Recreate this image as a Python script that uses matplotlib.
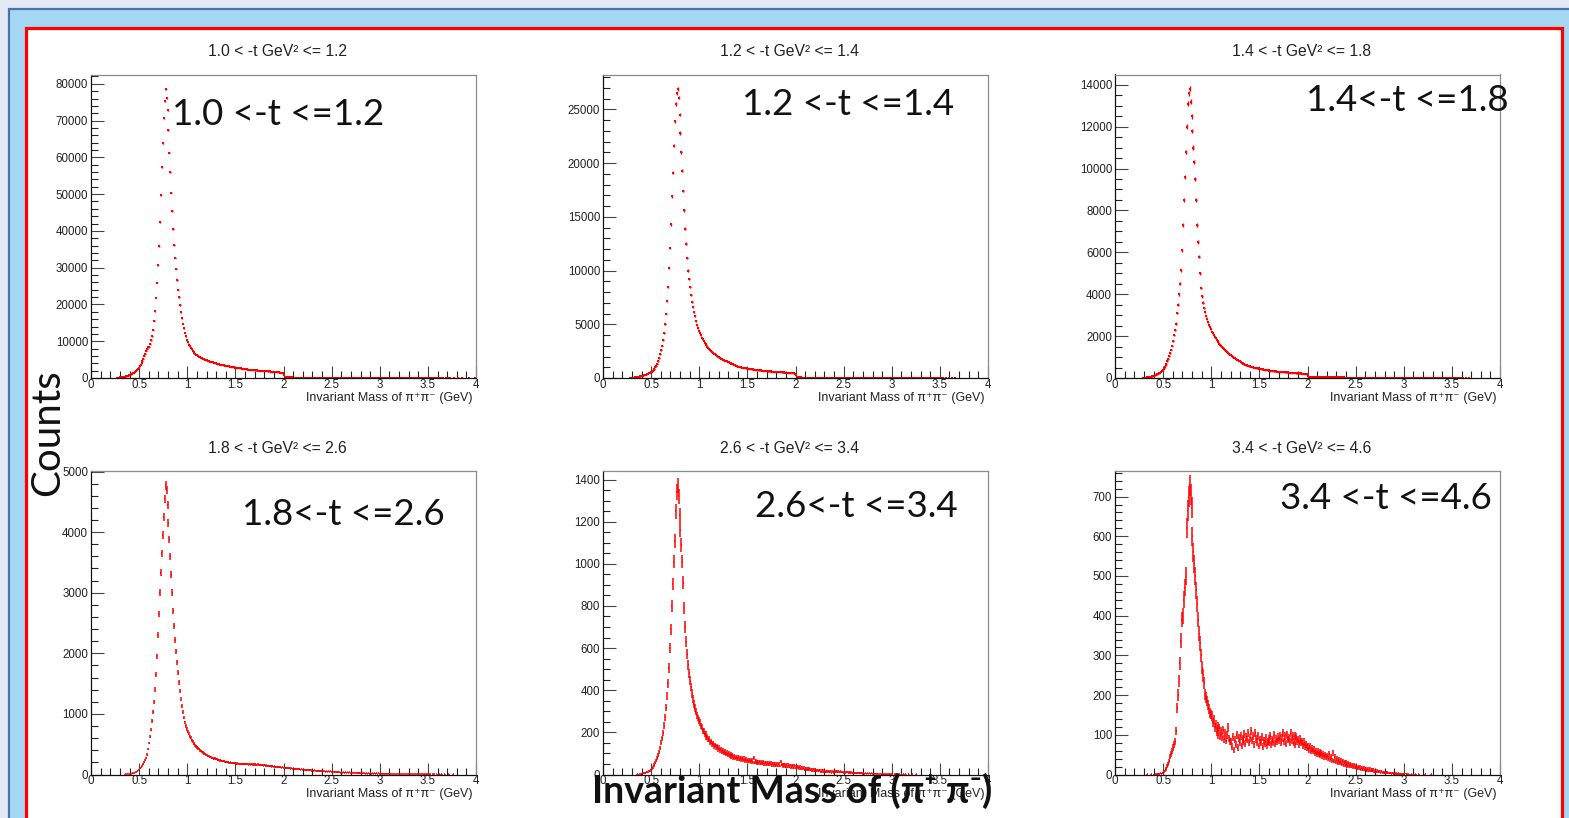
import numpy as np
import matplotlib
matplotlib.use("Agg")
import matplotlib.pyplot as plt
from matplotlib.patches import Rectangle
from matplotlib.ticker import MultipleLocator, FuncFormatter

# ---------------- data (bin contents, 0.01 GeV bins starting at 0.20 GeV) ----------------
BIN_WIDTH = 0.01
FIRST_BIN = 0.20

counts_t_1p0_1p2 = [
    0, 0, 0, 0, 0, 0, 0, 30, 60, 100,
    140, 180, 230, 280, 340, 400, 470, 550, 640, 740,
    850, 980, 1120, 1280, 1460, 1660, 1890, 2150, 2450, 2800,
    3200, 3650, 4150, 4700, 5300, 5950, 6650, 7400, 8000, 8300,
    8500, 9300, 10200, 11300, 13100, 15600, 18100, 21800, 25900, 30600,
    35900, 42400, 49800, 57300, 63900, 70700, 75400, 78600, 76200, 73000,
    67500, 61300, 55900, 50400, 45400, 40400, 36100, 32700, 29700, 26600,
    24000, 21900, 19800, 17900, 16200, 14800, 13500, 12300, 11300, 10400,
    9700, 9100, 8600, 8150, 7750, 7400, 7080, 6800, 6550, 6330,
    6130, 5950, 5780, 5620, 5470, 5330, 5200, 5080, 4970, 4860,
    4760, 4660, 4570, 4480, 4400, 4320, 4240, 4160, 4080, 4000,
    3930, 3860, 3790, 3720, 3650, 3590, 3530, 3470, 3410, 3350,
    3290, 3240, 3190, 3140, 3090, 3040, 2990, 2940, 2890, 2840,
    2800, 2760, 2720, 2680, 2640, 2600, 2560, 2520, 2480, 2440,
    2400, 2370, 2340, 2310, 2280, 2250, 2220, 2190, 2160, 2130,
    2100, 2070, 2040, 2010, 1990, 1970, 1950, 1930, 1910, 1890,
    1870, 1850, 1830, 1810, 1790, 1770, 1750, 1730, 1710, 1690,
    1670, 1640, 1610, 1580, 1550, 1520, 1480, 1440, 1400, 1320,
    900, 400, 180, 160, 150, 150, 145, 140, 140, 135,
    135, 130, 130, 128, 125, 125, 122, 120, 118, 118,
    115, 113, 112, 110, 108, 106, 105, 103, 101, 100,
    98, 97, 95, 93, 92, 90, 88, 87, 85, 84,
    82, 80, 79, 78, 76, 75, 73, 72, 70, 69,
    68, 66, 65, 64, 62, 61, 60, 59, 58, 57,
    56, 55, 54, 53, 52, 51, 50, 49, 48, 47,
    46, 45, 44, 43, 43, 42, 41, 40, 40, 39,
    38, 37, 37, 36, 35, 35, 34, 33, 33, 32,
    31, 31, 30, 30, 29, 28, 28, 27, 27, 26,
    26, 25, 25, 24, 24, 23, 23, 22, 22, 21,
    21, 20, 20, 20, 19, 19, 18, 18, 18, 17,
    17, 17, 16, 16, 15, 15, 15, 14, 14, 14,
    13, 13, 13, 12, 12, 12, 11, 11, 11, 10,
    10, 10, 9, 9, 9, 8, 8, 8, 7, 7,
    7, 6, 6, 0, 6, 5, 0, 5, 4, 0,
    4, 0, 4, 3, 0, 3, 0, 0, 3, 0,
    2, 0, 0, 2, 0, 0, 0, 2, 0, 0,
    0, 1, 0, 0, 0, 1, 0, 0, 0, 0,
    0, 0, 1, 0, 0, 0, 0, 0, 1, 0,
]

counts_t_1p2_1p4 = [
    0, 0, 0, 0, 0, 0, 0, 0, 5, 10,
    20, 30, 40, 55, 70, 85, 100, 120, 140, 165,
    190, 220, 250, 285, 320, 360, 400, 450, 500, 560,
    600, 680, 770, 880, 1010, 1160, 1340, 1560, 1820, 2200,
    2600, 3000, 3500, 4200, 5000, 6000, 7200, 8500, 10200, 12100,
    14300, 16900, 19100, 21600, 23900, 25500, 26500, 26900, 26100, 24500,
    22800, 21000, 19300, 17400, 15600, 13900, 12500, 11200, 10000, 9200,
    8500, 7700, 7100, 6600, 6150, 5750, 5300, 4930, 4650, 4400,
    4170, 3960, 3760, 3600, 3450, 3300, 3160, 3030, 2910, 2800,
    2700, 2600, 2510, 2420, 2340, 2260, 2190, 2120, 2050, 1990,
    1930, 1870, 1810, 1760, 1710, 1660, 1620, 1580, 1540, 1500,
    1460, 1420, 1380, 1340, 1300, 1260, 1220, 1180, 1140, 1100,
    1070, 1040, 1010, 990, 970, 950, 930, 915, 900, 885,
    870, 855, 840, 825, 810, 795, 780, 770, 760, 750,
    740, 730, 720, 710, 700, 690, 680, 670, 660, 650,
    640, 630, 622, 614, 606, 598, 590, 582, 575, 568,
    561, 554, 548, 542, 536, 530, 524, 518, 512, 506,
    500, 495, 490, 485, 480, 472, 464, 455, 440, 410,
    250, 90, 55, 50, 50, 48, 46, 45, 44, 43,
    42, 41, 40, 40, 39, 38, 37, 37, 36, 35,
    35, 34, 33, 33, 32, 31, 31, 30, 30, 29,
    28, 28, 27, 27, 26, 26, 25, 25, 24, 24,
    23, 23, 22, 22, 21, 21, 21, 20, 20, 19,
    19, 19, 18, 18, 17, 17, 17, 16, 16, 16,
    15, 15, 15, 14, 14, 14, 13, 13, 13, 12,
    12, 12, 12, 11, 11, 11, 10, 10, 10, 10,
    9, 9, 9, 9, 8, 8, 8, 8, 7, 7,
    7, 7, 7, 6, 6, 6, 6, 6, 5, 5,
    5, 5, 5, 5, 4, 4, 4, 4, 4, 4,
    3, 3, 3, 3, 3, 3, 3, 2, 2, 2,
    2, 2, 2, 2, 2, 2, 2, 1, 2, 1,
    1, 1, 2, 1, 1, 1, 1, 1, 1, 1,
    1, 1, 0, 1, 1, 0, 1, 1, 0, 1,
    0, 1, 0, 1, 0, 0, 1, 0, 0, 1,
    0, 0, 1, 0, 0, 1, 0, 0, 0, 0,
    0, 0, 0, 0, 0, 0, 0, 0, 0, 0,
    0, 0, 0, 0, 0, 0, 0, 0, 0, 0,
    0, 0, 0, 0, 0, 0, 0, 0, 0, 0,
]

counts_t_1p4_1p8 = [
    0, 0, 0, 0, 0, 0, 0, 0, 0, 5,
    10, 15, 20, 28, 36, 45, 55, 66, 78, 92,
    108, 125, 145, 168, 195, 225, 260, 300, 345, 395,
    450, 520, 600, 690, 790, 900, 1030, 1180, 1350, 1550,
    1780, 2030, 2300, 2600, 3090, 3500, 4000, 4500, 5150, 6100,
    7300, 8500, 9600, 10800, 12000, 13100, 13600, 13800, 13200, 12500,
    11800, 11000, 10300, 9500, 8500, 7300, 6500, 5800, 5000, 4300,
    3900, 3600, 3350, 3150, 2950, 2800, 2660, 2530, 2420, 2320,
    2220, 2130, 2050, 1970, 1900, 1830, 1760, 1700, 1640, 1580,
    1520, 1470, 1420, 1370, 1320, 1280, 1240, 1200, 1160, 1120,
    1080, 1040, 1000, 970, 940, 910, 880, 850, 820, 790,
    760, 735, 710, 685, 660, 640, 620, 600, 585, 570,
    555, 540, 525, 510, 500, 490, 480, 470, 460, 450,
    440, 430, 420, 410, 400, 392, 385, 378, 371, 364,
    358, 352, 346, 340, 334, 328, 322, 316, 310, 305,
    300, 296, 292, 288, 284, 280, 276, 272, 268, 264,
    260, 256, 252, 248, 244, 240, 236, 232, 228, 224,
    222, 220, 218, 216, 214, 212, 210, 205, 195, 180,
    110, 55, 45, 44, 43, 42, 42, 41, 40, 40,
    39, 38, 38, 37, 36, 36, 35, 35, 34, 33,
    33, 32, 32, 31, 30, 30, 29, 29, 28, 28,
    27, 27, 26, 26, 25, 25, 24, 24, 23, 23,
    22, 22, 21, 21, 21, 20, 20, 19, 19, 19,
    18, 18, 17, 17, 17, 16, 16, 16, 15, 15,
    15, 14, 14, 14, 13, 13, 13, 12, 12, 12,
    12, 11, 11, 11, 10, 10, 10, 10, 9, 9,
    9, 9, 8, 8, 8, 8, 7, 7, 7, 7,
    7, 6, 6, 6, 6, 6, 5, 5, 5, 5,
    5, 5, 4, 4, 4, 4, 4, 4, 3, 3,
    3, 3, 3, 3, 3, 3, 2, 2, 2, 2,
    2, 2, 2, 2, 2, 2, 2, 1, 1, 1,
    1, 1, 1, 1, 1, 1, 1, 1, 1, 1,
    1, 1, 0, 1, 1, 1, 0, 1, 1, 0,
    1, 0, 1, 1, 0, 1, 0, 1, 0, 1,
    0, 1, 0, 0, 1, 0, 0, 1, 0, 0,
    0, 0, 0, 0, 0, 0, 0, 0, 0, 0,
    0, 0, 0, 0, 0, 0, 0, 0, 0, 0,
    0, 0, 0, 0, 0, 0, 0, 0, 0, 0,
]

counts_t_1p8_2p6 = [
    0, 0, 0, 0, 0, 0, 0, 0, 0, 0,
    0, 0, 0, 0, 0, 1, 2, 3, 2, 4,
    10, 12, 15, 18, 23, 28, 35, 45, 60, 78,
    95, 110, 128, 150, 175, 205, 235, 270, 330, 420,
    520, 620, 740, 880, 1030, 1200, 1400, 1650, 1950, 2300,
    2650, 3000, 3330, 3650, 3950, 4250, 4550, 4770, 4700, 4450,
    4150, 3880, 3600, 3300, 3000, 2700, 2450, 2220, 2030, 1850,
    1680, 1520, 1380, 1250, 1130, 1030, 940, 860, 800, 750,
    705, 672, 628, 603, 566, 548, 515, 503, 476, 466,
    448, 426, 417, 396, 391, 368, 364, 346, 342, 327,
    322, 306, 305, 291, 293, 277, 279, 263, 266, 252,
    254, 241, 244, 231, 236, 222, 227, 215, 219, 207,
    212, 201, 207, 195, 200, 190, 196, 186, 192, 183,
    188, 178, 184, 175, 181, 172, 180, 171, 178, 169,
    176, 167, 174, 165, 173, 163, 172, 162, 171, 161,
    170, 161, 168, 158, 166, 155, 163, 151, 158, 148,
    154, 144, 150, 140, 147, 135, 143, 131, 139, 128,
    135, 124, 131, 120, 127, 116, 123, 113, 120, 111,
    118, 108, 114, 104, 111, 100, 108, 98, 104, 95,
    101, 91, 97, 88, 94, 85, 91, 81, 88, 79,
    85, 76, 82, 73, 79, 70, 77, 67, 74, 65,
    71, 62, 68, 59, 66, 57, 63, 54, 61, 52,
    59, 50, 57, 48, 55, 46, 53, 44, 51, 42,
    49, 40, 47, 38, 45, 36, 44, 35, 42, 33,
    40, 31, 39, 30, 37, 28, 36, 27, 34, 26,
    33, 24, 32, 23, 30, 22, 29, 21, 28, 19,
    27, 18, 26, 17, 25, 16, 24, 15, 23, 14,
    22, 13, 21, 12, 20, 12, 19, 11, 18, 10,
    17, 9, 16, 9, 15, 9, 15, 8, 14, 8,
    13, 7, 12, 7, 11, 6, 11, 6, 10, 6,
    10, 5, 9, 5, 9, 4, 8, 4, 8, 4,
    7, 3, 7, 3, 6, 3, 6, 2, 5, 2,
    5, 2, 4, 2, 4, 1, 4, 1, 3, 1,
    3, 1, 3, 0, 2, 1, 2, 0, 2, 0,
    1, 0, 1, 0, 1, 0, 0, 1, 0, 0,
    0, 1, 0, 0, 0, 0, 1, 0, 0, 0,
    0, 0, 0, 0, 0, 0, 0, 0, 0, 0,
    0, 0, 0, 0, 0, 0, 0, 0, 0, 0,
]

counts_t_2p6_3p4 = [
    0, 0, 0, 0, 0, 0, 0, 0, 0, 0,
    0, 0, 0, 0, 0, 1, 0, 1, 2, 1,
    4, 5, 6, 7, 9, 10, 12, 15, 18, 22,
    27, 33, 40, 47, 56, 66, 78, 92, 108, 126,
    150, 172, 198, 232, 272, 318, 372, 432, 505, 600,
    690, 800, 905, 1010, 1110, 1250, 1340, 1372, 1320, 1230,
    1160, 1090, 1010, 910, 790, 700, 630, 570, 520, 480,
    445, 415, 385, 360, 335, 315, 298, 282, 268, 255,
    246, 229, 225, 208, 206, 191, 192, 177, 179, 165,
    168, 153, 157, 144, 149, 134, 140, 127, 133, 120,
    127, 114, 121, 108, 115, 103, 110, 96, 104, 92,
    100, 88, 97, 84, 92, 80, 89, 76, 85, 73,
    82, 71, 81, 69, 78, 67, 77, 65, 74, 63,
    71, 61, 70, 59, 68, 57, 77, 55, 65, 54,
    63, 53, 62, 51, 61, 50, 59, 49, 58, 47,
    57, 46, 56, 45, 55, 44, 54, 43, 53, 42,
    52, 41, 51, 40, 60, 47, 49, 38, 48, 37,
    47, 36, 46, 35, 45, 34, 44, 33, 43, 32,
    41, 31, 39, 29, 37, 27, 35, 25, 33, 23,
    31, 22, 29, 20, 28, 19, 26, 18, 25, 17,
    24, 16, 23, 15, 22, 14, 21, 13, 20, 12,
    19, 11, 18, 11, 17, 10, 16, 9, 15, 9,
    18, 12, 17, 11, 16, 10, 15, 10, 14, 9,
    13, 8, 12, 8, 11, 7, 11, 7, 10, 6,
    9, 6, 9, 5, 8, 5, 8, 5, 7, 4,
    7, 4, 6, 4, 6, 3, 5, 3, 5, 3,
    4, 2, 4, 2, 4, 2, 3, 2, 3, 1,
    3, 1, 3, 1, 2, 1, 2, 1, 2, 1,
    2, 0, 2, 1, 1, 0, 1, 1, 1, 0,
    1, 0, 1, 0, 1, 0, 0, 1, 0, 0,
    0, 1, 0, 0, 0, 1, 0, 0, 0, 0,
    0, 0, 0, 0, 0, 0, 0, 0, 0, 0,
    0, 0, 0, 0, 0, 0, 0, 0, 0, 0,
    0, 0, 0, 0, 0, 0, 0, 0, 0, 0,
    0, 0, 0, 0, 0, 0, 0, 0, 0, 0,
    0, 0, 0, 0, 0, 0, 0, 0, 0, 0,
    0, 0, 0, 0, 0, 0, 0, 0, 0, 0,
    0, 0, 0, 0, 0, 0, 0, 0, 0, 0,
]

counts_t_3p4_4p6 = [
    0, 0, 0, 0, 0, 0, 0, 0, 0, 0,
    0, 0, 0, 1, 0, 0, 0, 1, 0, 0,
    1, 0, 1, 1, 2, 1, 2, 3, 2, 4,
    7, 9, 12, 16, 21, 27, 34, 45, 52, 60,
    68, 76, 84, 110, 168, 200, 236, 280, 337, 390,
    400, 440, 470, 500, 620, 665, 700, 728, 705, 672,
    600, 560, 531, 500, 464, 430, 390, 354, 330, 300,
    269, 250, 230, 202, 195, 185, 175, 165, 155, 151,
    148, 132, 138, 119, 127, 108, 121, 100, 117, 96,
    109, 95, 112, 90, 104, 85, 99, 118, 91, 84,
    84, 70, 95, 62, 88, 75, 100, 68, 92, 80,
    96, 72, 90, 84, 102, 78, 95, 88, 104, 80,
    92, 110, 85, 98, 76, 104, 90, 82, 96, 72,
    88, 80, 94, 70, 86, 78, 92, 74, 84, 90,
    80, 96, 76, 88, 82, 100, 78, 90, 84, 94,
    86, 98, 80, 92, 104, 84, 96, 78, 100, 88,
    92, 82, 104, 86, 96, 80, 98, 76, 94, 84,
    88, 76, 90, 80, 84, 72, 82, 70, 76, 68,
    70, 62, 72, 58, 66, 60, 64, 54, 60, 52,
    58, 50, 56, 48, 54, 46, 52, 44, 50, 42,
    48, 40, 52, 38, 46, 36, 55, 34, 44, 32,
    40, 30, 38, 28, 36, 27, 34, 25, 32, 24,
    30, 22, 28, 21, 26, 20, 25, 18, 23, 17,
    22, 15, 20, 14, 19, 13, 18, 12, 17, 11,
    16, 10, 15, 9, 14, 8, 13, 8, 12, 7,
    11, 6, 10, 6, 9, 5, 8, 5, 7, 4,
    6, 4, 6, 3, 5, 3, 5, 2, 4, 2,
    4, 2, 3, 1, 3, 1, 2, 1, 2, 1,
    2, 0, 2, 1, 1, 0, 1, 0, 1, 0,
    1, 0, 1, 0, 0, 1, 0, 0, 0, 0,
    0, 0, 1, 0, 0, 0, 0, 0, 1, 0,
    0, 0, 0, 0, 0, 0, 0, 0, 0, 0,
    0, 0, 0, 0, 0, 0, 0, 0, 0, 0,
    0, 0, 0, 0, 0, 0, 0, 0, 0, 0,
    0, 0, 0, 0, 0, 0, 0, 0, 0, 0,
    0, 0, 0, 0, 0, 0, 0, 0, 0, 0,
    0, 0, 0, 0, 0, 0, 0, 0, 0, 0,
    0, 0, 0, 0, 0, 0, 0, 0, 0, 0,
]

panel_titles = [
    "1.0 < -t GeV\u00b2 <= 1.2", "1.2 < -t GeV\u00b2 <= 1.4", "1.4 < -t GeV\u00b2 <= 1.8",
    "1.8 < -t GeV\u00b2 <= 2.6", "2.6 < -t GeV\u00b2 <= 3.4", "3.4 < -t GeV\u00b2 <= 4.6",
]
panel_notes = [
    "1.0 <-t <=1.2", "1.2 <-t <=1.4", "1.4<-t <=1.8",
    "1.8<-t <=2.6", "2.6<-t <=3.4", "3.4 <-t <=4.6",
]
panel_counts = [counts_t_1p0_1p2, counts_t_1p2_1p4, counts_t_1p4_1p8,
                counts_t_1p8_2p6, counts_t_2p6_3p4, counts_t_3p4_4p6]
y_major = [10000, 5000, 2000, 1000, 200, 100]
y_minor = [2000, 1000, 500, 200, 50, 20]
x_tick_step = 0.5
x_title = "Invariant Mass of \u03c0\u207a\u03c0\u207b (GeV)"
big_x_title = "Invariant Mass of (\u03c0\u207a \u03c0\u207b)"
big_y_title = "Counts"

# ---------------- layout (pixels) ----------------
W, H = 1569, 818
fig = plt.figure(figsize=(W / 100, H / 100), dpi=100)
fig.patch.set_facecolor("#e4eaf5")

bg = fig.add_axes([0, 0, 1, 1], zorder=0)
bg.set_xlim(0, W)
bg.set_ylim(H, 0)
bg.axis("off")
bg.add_patch(Rectangle((9, 9), W + 40, H + 40, facecolor="#a4d7f2",
                       edgecolor="#4d72ab", lw=1.6))
bg.add_patch(Rectangle((25.5, 27.5), 1536, H + 40, facecolor="white",
                       edgecolor="#ff0000", lw=2.3))

col_left = [91, 603, 1115]
row_top = [74.5, 471]
ax_w, ax_h = 385, 303.5
note_pos = [(172, 125), (742, 115), (1306, 111), (242, 525), (755, 517), (1280, 509)]

SANS = ["Liberation Sans", "DejaVu Sans"]
BIG = ["Lato", "DejaVu Sans"]


def fx(px):
    return px / W


def fy(py):
    return 1 - py / H


for i in range(6):
    r, c = divmod(i, 3)
    left, top = col_left[c], row_top[r]
    ax = fig.add_axes([fx(left), fy(top + ax_h), ax_w / W, ax_h / H], zorder=2)
    ax.patch.set_alpha(0)
    vals = np.array(panel_counts[i], dtype=float)
    centers = FIRST_BIN + BIN_WIDTH * (np.arange(len(vals)) + 0.5)
    m = vals > 0
    ax.errorbar(centers[m], vals[m], xerr=BIN_WIDTH / 2, yerr=np.sqrt(vals[m]),
                fmt="none", ecolor="#ff0000", elinewidth=1.1 if r else 1.0, capsize=0)
    if r == 0:
        ax.plot(centers[m], vals[m], "s", ms=1.6, mew=0, color="#ff0000")
    ax.set_xlim(0, 4)
    ax.set_ylim(0, 1.05 * vals.max())
    ax.xaxis.set_major_locator(MultipleLocator(x_tick_step))
    ax.xaxis.set_minor_locator(MultipleLocator(0.1))
    ax.yaxis.set_major_locator(MultipleLocator(y_major[i]))
    ax.yaxis.set_minor_locator(MultipleLocator(y_minor[i]))
    ax.xaxis.set_major_formatter(FuncFormatter(lambda v, p: f"{v:g}"))
    ax.yaxis.set_major_formatter(FuncFormatter(lambda v, p: f"{v:.0f}"))
    ax.tick_params(which="major", direction="in", length=9, width=0.8,
                   color="#444444", labelsize=8.3, pad=2, labelcolor="#222222",
                   top=False, right=False)
    ax.tick_params(axis="x", which="major", pad=0.5)
    ax.tick_params(which="minor", direction="in", length=5, width=0.8,
                   color="#222222", top=False, right=False)
    for lab in ax.get_xticklabels() + ax.get_yticklabels():
        lab.set_family(SANS)
    for s in ("left", "bottom"):
        ax.spines[s].set_color("#111111")
        ax.spines[s].set_linewidth(0.9)
    for s in ("top", "right"):
        ax.spines[s].set_color("#8a8a8a")
        ax.spines[s].set_linewidth(0.9)

    fig.text(fx(left + ax_w - 3), fy(top + ax_h + 20), x_title, ha="right",
             va="center", fontsize=9, color="#222222", family=SANS, zorder=3)
    fig.text(fx(left + ax_w / 2 - 6), fy(top - 22.5), panel_titles[i], ha="center",
             va="center", fontsize=11.3, color="#222222", family=SANS, zorder=3)
    nx, ny = note_pos[i]
    fig.text(fx(nx), fy(ny), panel_notes[i], ha="left", va="baseline",
             fontsize=26.5, color="#111111", family=BIG, zorder=4)

fig.text(fx(48), fy(433), big_y_title, rotation=90, ha="center", va="center",
         fontsize=29, color="#111111", family=BIG, zorder=4)
fig.text(fx(792), fy(803), big_x_title, ha="center", va="baseline",
         fontsize=27, color="#111111", family=BIG, weight="bold", zorder=5)

fig.savefig("out.png", dpi=100, facecolor=fig.get_facecolor())
